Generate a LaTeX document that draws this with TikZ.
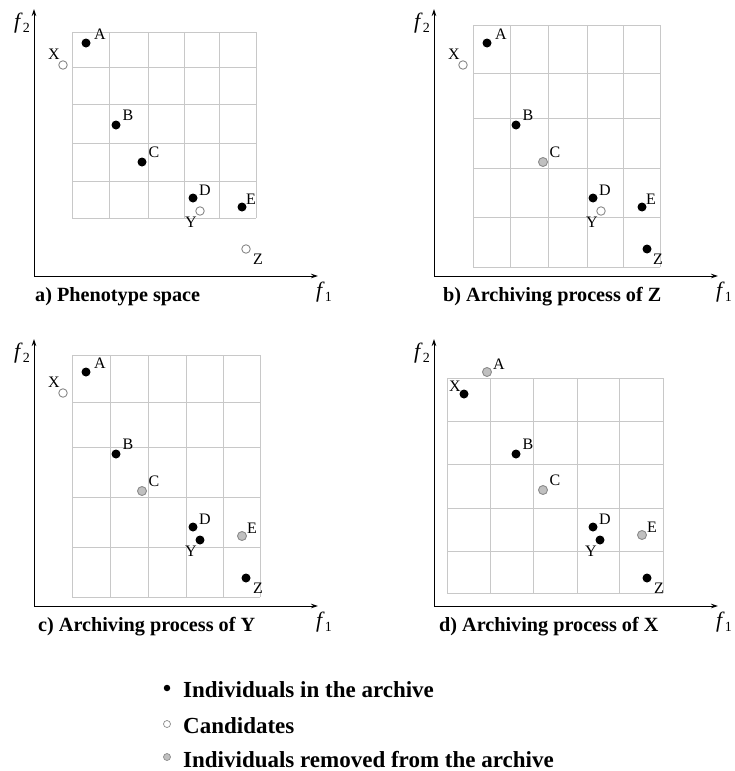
\documentclass[tikz,border=0pt]{standalone}
\usepackage{fontspec}
\setmainfont{Liberation Serif}
\usetikzlibrary{arrows.meta}
\definecolor{gridc}{HTML}{C8C8C8}
\definecolor{hollowc}{HTML}{8A8A8A}
\definecolor{remfill}{HTML}{C0C0C0}
\definecolor{remdraw}{HTML}{8C8C8C}
\tikzset{
 blk/.style={circle,fill=black,inner sep=0pt,minimum size=9pt},
 cand/.style={circle,draw=hollowc,fill=white,line width=0.9pt,inner sep=0pt,minimum size=8.5pt},
 rem/.style={circle,draw=remdraw,fill=remfill,line width=0.9pt,inner sep=0pt,minimum size=9pt},
 lbl/.style={font=\fontsize{16}{16}\selectfont,inner sep=0pt},
 axisl/.style={line width=0.9pt,-{Stealth[length=7pt,width=4.5pt]}},
 gridl/.style={draw=gridc,line width=0.9pt},
 capn/.style={font=\bfseries\fontsize{20.2}{21}\selectfont,anchor=base west,inner sep=0pt},
 legn/.style={font=\bfseries\fontsize{23}{24}\selectfont,anchor=base west,inner sep=0pt},
 axlbl/.style={font=\fontsize{22}{22}\selectfont,inner sep=0pt},
}
\newcommand\pdot[6]{\node[#1,label={[lbl,name=l#2,xshift=#4pt,yshift=#5pt]center:#6}] (#2) at (#3) {};}
\newcommand\axes[1]{%
 \coordinate (#1O) at (34,276);
 \coordinate (#1T) at (34,9);
 \coordinate (#1R) at (318,276);
 \draw[axisl] (#1O) -- (#1T);
 \draw[axisl] (#1O) -- (#1R);
 \node[axlbl] (#1f2) at (22,23) {\textit{f}\raisebox{-4pt}{\fontsize{14}{14}\selectfont 2}};
 \node[axlbl] (#1f1) at (324,292) {\textit{f}\raisebox{-4pt}{\fontsize{14}{14}\selectfont 1}};
}
\newcommand\gridd[6]{%
 \foreach \x in {#1} \draw[gridl] (\x,#4) -- (\x,#5);
 \foreach \y in {#6} \draw[gridl] (#2,\y) -- (#3,\y);
}
\begin{document}
\begin{tikzpicture}[x=1pt,y=-1pt]
\fill[white] (0,0) rectangle (735,771);
\useasboundingbox (0,0) rectangle (735,771);
% panel a
\begin{scope}
 \gridd{72,109,148,184,219,256}{72}{256}{32}{218}{32,67,104,143,181,218}
 \axes{a}
 \pdot{blk}{aA}{86,43}{14}{9}{A}
 \pdot{cand}{aX}{63,65}{-9}{11}{X}
 \pdot{blk}{aB}{116,125}{12}{10}{B}
 \pdot{blk}{aC}{142,162}{12}{10}{C}
 \pdot{blk}{aD}{193,198}{12}{8}{D}
 \pdot{cand}{aY}{200,211}{-9}{-11}{Y}
 \pdot{blk}{aE}{242,207}{9}{8}{E}
 \pdot{cand}{aZ}{246,249}{12}{-10}{Z}
 \node[capn] (acap) at (35,301) {a) Phenotype space};
\end{scope}
% panel b
\begin{scope}[shift={(400,0)}]
 \gridd{73,110,148,187,223,260}{73}{260}{25}{267}{25,73,118,168,217,267}
 \axes{b}
 \pdot{blk}{bA}{87,43}{14}{9}{A}
 \pdot{cand}{bX}{63,65}{-9}{11}{X}
 \pdot{blk}{bB}{116,125}{12}{10}{B}
 \pdot{rem}{bC}{143,162}{12}{10}{C}
 \pdot{blk}{bD}{193,198}{12}{8}{D}
 \pdot{cand}{bY}{201,211}{-9}{-11}{Y}
 \pdot{blk}{bE}{242,207}{9}{8}{E}
 \pdot{blk}{bZ}{247,249}{11}{-10}{Z}
 \node[capn] (bcap) at (43,301) {b) Archiving process of Z};
\end{scope}
% panel c
\begin{scope}[shift={(0,330)}]
 \gridd{72,110,148,186,223,260}{72}{260}{25}{267}{25,72,117,167,217,267}
 \axes{c}
 \pdot{blk}{cA}{86,42}{14}{9}{A}
 \pdot{cand}{cX}{63,63}{-9}{11}{X}
 \pdot{blk}{cB}{116,124}{12}{10}{B}
 \pdot{rem}{cC}{142,161}{12}{10}{C}
 \pdot{blk}{cD}{193,197}{12}{8}{D}
 \pdot{blk}{cY}{200,210}{-9}{-11}{Y}
 \pdot{rem}{cE}{242,206}{10}{8}{E}
 \pdot{blk}{cZ}{246,248}{12}{-10}{Z}
 \node[capn] (ccap) at (38,301) {c) Archiving process of Y};
\end{scope}
% panel d
\begin{scope}[shift={(400,330)}]
 \gridd{47,90,133,177,219,263}{47}{263}{48}{263}{48,91,134,178,221,263}
 \axes{d}
 \pdot{rem}{dA}{87,42}{12}{8}{A}
 \pdot{blk}{dX}{64,64}{-9}{8}{X}
 \pdot{blk}{dB}{116,124}{12}{10}{B}
 \pdot{rem}{dC}{143,160}{12}{10}{C}
 \pdot{blk}{dD}{193,197}{12}{8}{D}
 \pdot{blk}{dY}{200,210}{-9}{-11}{Y}
 \pdot{rem}{dE}{242,205}{10}{8}{E}
 \pdot{blk}{dZ}{247,248}{12}{-10}{Z}
 \node[capn] (dcap) at (39,301) {d) Archiving process of X};
\end{scope}
% legend
\node[blk,minimum size=6.5pt] (lg1) at (167,688) {};
\node[legn] (lgt1) at (183,697) {Individuals in the archive};
\node[cand,minimum size=7pt,line width=0.7pt] (lg2) at (167,724) {};
\node[legn] (lgt2) at (183,733) {Candidates};
\node[rem,minimum size=7pt,line width=0.7pt] (lg3) at (167,757) {};
\node[legn] (lgt3) at (183,767) {Individuals removed from the archive};
\end{tikzpicture}
\end{document}
